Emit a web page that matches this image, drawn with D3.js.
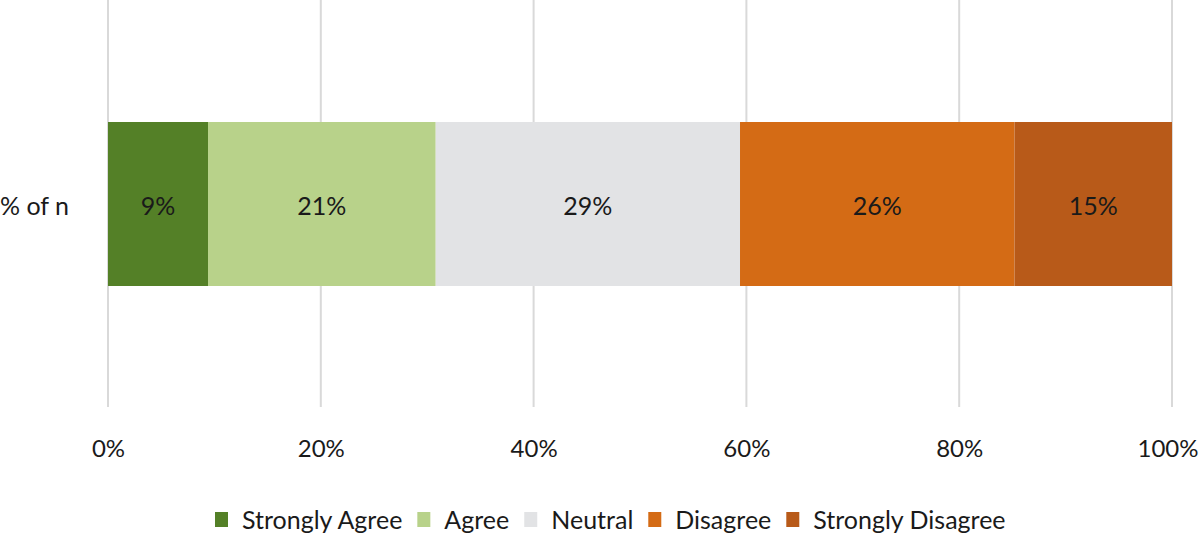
<!DOCTYPE html>
<html lang="en">
<head>
<meta charset="utf-8">
<title>Likert</title>
<script src="https://cdn.jsdelivr.net/npm/d3@7"></script>
<style>
  body { margin: 0; background: #fff; }
  text { font-family: Lato, "Open Sans", sans-serif; fill: #1a1a1a; }
</style>
</head>
<body>
<script>
var categories = ["Strongly Agree", "Agree", "Neutral", "Disagree", "Strongly Disagree"]
var values = [9.4, 21.4, 28.6, 25.8, 14.8]
var labels = ["9%", "21%", "29%", "26%", "15%"]
var colors = ["#548027", "#b8d28a", "#e2e3e5", "#d46b15", "#b85a19"]
var rowLabel = "% of n"
var ticks = [0, 20, 40, 60, 80, 100]

var w = 1200, h = 534, fs = "25px"
var svg = d3.select("body").append("svg").attr("width", w).attr("height", h)

var x = d3.scaleLinear().domain([0, 100]).range([108, 1172])

// gridlines
svg.selectAll(".grid")
  .data(ticks)
  .enter()
  .append("line")
  .attr("class", "grid")
  .attr("x1", function(d) { return x(d) })
  .attr("x2", function(d) { return x(d) })
  .attr("y1", 0)
  .attr("y2", 407)
  .attr("stroke", "#d9d9d9")
  .attr("stroke-width", 2)

// stack
var stacked = []
var acc = 0
values.forEach(function(v, i) {
  stacked.push({ cat: categories[i], x0: acc, x1: acc + v, label: labels[i], color: colors[i] })
  acc += v
})

var bar = svg.selectAll(".seg")
  .data(stacked)
  .enter()
  .append("g")
  .attr("class", "seg")

bar.append("rect")
  .attr("x", function(d) { return x(d.x0) })
  .attr("width", function(d) { return x(d.x1) - x(d.x0) })
  .attr("y", 122)
  .attr("height", 164)
  .attr("fill", function(d) { return d.color })

bar.append("text")
  .attr("x", function(d) { return (x(d.x0) + x(d.x1)) / 2 })
  .attr("y", 206)
  .attr("dy", "0.35em")
  .attr("text-anchor", "middle")
  .attr("font-size", fs)
  .text(function(d) { return d.label })

// row label
svg.append("text")
  .attr("x", 0)
  .attr("y", 206)
  .attr("dy", "0.35em")
  .attr("font-size", fs)
  .text(rowLabel)

// x axis labels
var axis = d3.axisBottom(x)
  .tickValues(ticks)
  .tickSize(0)
  .tickFormat(function(d) { return d + "%" })

var gx = svg.append("g")
  .attr("transform", "translate(0,437)")
  .call(axis)
gx.select(".domain").remove()
gx.selectAll("text")
  .attr("font-size", "24px")
  .style("font-family", "Lato, 'Open Sans', sans-serif")
  .attr("fill", "#1a1a1a")
// keep last label inside the frame
gx.selectAll(".tick text")
  .filter(function(d) { return d === 100 })
  .attr("text-anchor", "end")
  .attr("x", w - 2 - x(100))

// legend
var legend = svg.append("g").attr("transform", "translate(0,520)")
var lx = 215
categories.forEach(function(c, i) {
  var g = legend.append("g").attr("transform", "translate(" + lx + ",0)")
  g.append("rect")
    .attr("x", 0)
    .attr("y", -8)
    .attr("width", 13)
    .attr("height", 15)
    .attr("fill", colors[i])
  var t = g.append("text")
    .attr("x", 27)
    .attr("dy", "0.35em")
    .attr("font-size", fs)
    .text(c)
  lx += 27 + t.node().getComputedTextLength() + 15
})
</script>
</body>
</html>
